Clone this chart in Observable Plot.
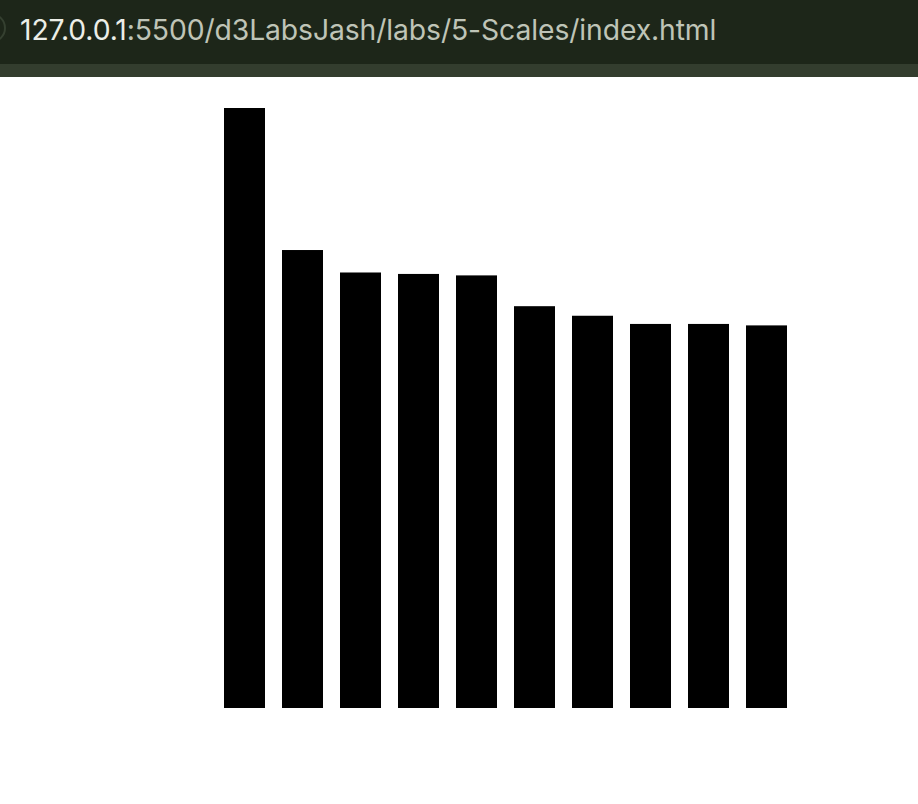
<!DOCTYPE html>
<html>
<head>
<meta charset="utf-8">
<script src="https://cdn.jsdelivr.net/npm/d3@7"></script>
<script src="https://cdn.jsdelivr.net/npm/@observablehq/plot@0.6"></script>
<style>
  html, body { margin: 0; padding: 0; background: #ffffff; width: 918px; height: 804px; overflow: hidden; }
  #bar { position: relative; height: 64px; background: #1d2619; overflow: hidden; }
  #strip { height: 13px; background: #333d2e; }
  #ring { position: absolute; left: -24px; top: 13px; width: 26px; height: 26px; border-radius: 50%; border: 2px solid #354030; }
  #url { position: absolute; left: 20px; top: 12px; font-family: Inter, "Open Sans", sans-serif; font-size: 28.3px; line-height: 36px; color: #bfc4b7; letter-spacing: -0.1px; white-space: nowrap; }
  #url .host { color: #eceee8; }
  #chart svg { display: block; }
</style>
</head>
<body>
<div id="bar"><div id="ring"></div><div id="url"><span class="host">127.0.0.1</span>:5500/d3LabsJash/labs/5-Scales/index.html</div></div>
<div id="strip"></div>
<div id="chart"></div>
<script>
const names = [
  "Burj Khalifa",
  "Shanghai Tower",
  "Abraj Al-Bait Clock Tower",
  "Ping An Finance Centre",
  "Goldin Finance 117",
  "Lotte World Tower",
  "One World Trade Center",
  "Guangzhou CTF Finance Center",
  "Tianjin CTF Finance Center",
  "CITIC Tower"
];
const heights = [828, 632, 601, 599, 597, 554.5, 541.3, 530, 530, 528];

const data = names.map((name, i) => ({name, height: heights[i]}));

const chart = Plot.plot({
  width: 918,
  height: 727,
  marginLeft: 205.5,
  marginRight: 112,
  marginTop: 31,
  marginBottom: 96,
  x: {domain: names, padding: 0.3, axis: null},
  y: {domain: [0, d3.max(heights)], axis: null},
  marks: [
    Plot.barY(data, {x: "name", y: "height", fill: "black"})
  ]
});
document.getElementById("chart").appendChild(chart);
</script>
</body>
</html>
